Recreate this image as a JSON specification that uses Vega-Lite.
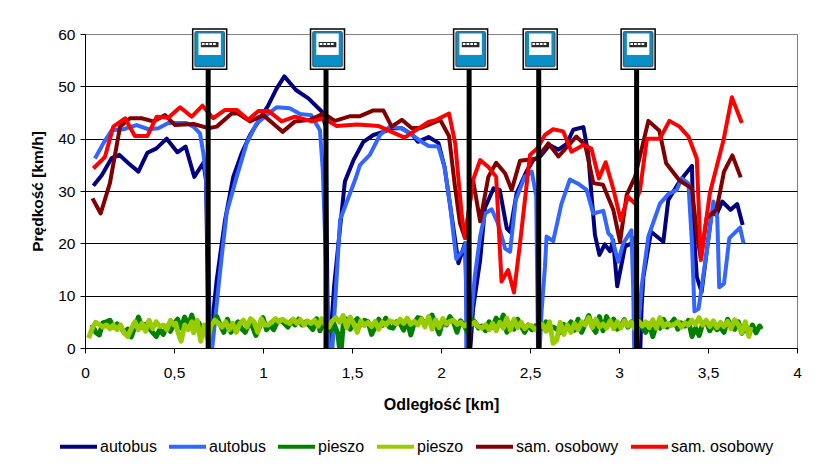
{
"$schema":"https://vega.github.io/schema/vega-lite/v6.json",
"width":712,"height":314,
"autosize":"none",
"padding":{"left":85,"top":34,"right":32,"bottom":121},
"background":"#ffffff",
"config":{"view":{"stroke":"#808080","strokeWidth":1},"font":"Liberation Sans"},
"datasets":{
"stops":[{"km":0.692},{"km":1.354},{"km":2.158},{"km":2.549},{"km":3.099}],
"series":[
{"s":"autobus 1","d":0.047,"v":31},{"s":"autobus 1","d":0.094,"v":33},{"s":"autobus 1","d":0.15,"v":36.3},{"s":"autobus 1","d":0.193,"v":36.9},{"s":"autobus 1","d":0.244,"v":35.3},{"s":"autobus 1","d":0.3,"v":33.7},{"s":"autobus 1","d":0.35,"v":37.3},{"s":"autobus 1","d":0.4,"v":38.1},{"s":"autobus 1","d":0.459,"v":40},{"s":"autobus 1","d":0.519,"v":37.4},{"s":"autobus 1","d":0.565,"v":38.5},{"s":"autobus 1","d":0.614,"v":32.7},{"s":"autobus 1","d":0.665,"v":35.4},{"s":"autobus 1","d":0.68,"v":32},{"s":"autobus 1","d":0.695,"v":0},{"s":"autobus 1","d":0.7,"v":0},{"s":"autobus 1","d":0.74,"v":13},{"s":"autobus 1","d":0.787,"v":24.5},{"s":"autobus 1","d":0.833,"v":32.7},{"s":"autobus 1","d":0.88,"v":37.2},{"s":"autobus 1","d":0.927,"v":40.7},{"s":"autobus 1","d":0.974,"v":43.3},{"s":"autobus 1","d":1.03,"v":46.4},{"s":"autobus 1","d":1.077,"v":49.6},{"s":"autobus 1","d":1.12,"v":51.9},{"s":"autobus 1","d":1.185,"v":49.3},{"s":"autobus 1","d":1.255,"v":47.7},{"s":"autobus 1","d":1.33,"v":45.2},{"s":"autobus 1","d":1.352,"v":42.3},{"s":"autobus 1","d":1.365,"v":0},{"s":"autobus 1","d":1.375,"v":0},{"s":"autobus 1","d":1.4,"v":12},{"s":"autobus 1","d":1.43,"v":22},{"s":"autobus 1","d":1.46,"v":31.8},{"s":"autobus 1","d":1.507,"v":35.8},{"s":"autobus 1","d":1.564,"v":39.4},{"s":"autobus 1","d":1.62,"v":40.7},{"s":"autobus 1","d":1.676,"v":41.3},{"s":"autobus 1","d":1.73,"v":42},{"s":"autobus 1","d":1.78,"v":42},{"s":"autobus 1","d":1.84,"v":40.7},{"s":"autobus 1","d":1.87,"v":39.4},{"s":"autobus 1","d":1.93,"v":40.3},{"s":"autobus 1","d":1.985,"v":39.2},{"s":"autobus 1","d":2.02,"v":34.6},{"s":"autobus 1","d":2.06,"v":25.2},{"s":"autobus 1","d":2.098,"v":16.2},{"s":"autobus 1","d":2.135,"v":20},{"s":"autobus 1","d":2.15,"v":0},{"s":"autobus 1","d":2.165,"v":0},{"s":"autobus 1","d":2.18,"v":7.4},{"s":"autobus 1","d":2.22,"v":16.8},{"s":"autobus 1","d":2.247,"v":26.8},{"s":"autobus 1","d":2.295,"v":30.5},{"s":"autobus 1","d":2.33,"v":30.2},{"s":"autobus 1","d":2.37,"v":22.8},{"s":"autobus 1","d":2.388,"v":22.2},{"s":"autobus 1","d":2.425,"v":29.6},{"s":"autobus 1","d":2.48,"v":33.7},{"s":"autobus 1","d":2.52,"v":36},{"s":"autobus 1","d":2.557,"v":36.6},{"s":"autobus 1","d":2.61,"v":38.8},{"s":"autobus 1","d":2.66,"v":37.9},{"s":"autobus 1","d":2.706,"v":39},{"s":"autobus 1","d":2.743,"v":41.7},{"s":"autobus 1","d":2.8,"v":42.2},{"s":"autobus 1","d":2.827,"v":37.2},{"s":"autobus 1","d":2.846,"v":29},{"s":"autobus 1","d":2.865,"v":21.6},{"s":"autobus 1","d":2.89,"v":17.8},{"s":"autobus 1","d":2.92,"v":19.8},{"s":"autobus 1","d":2.95,"v":18.5},{"s":"autobus 1","d":2.967,"v":20.6},{"s":"autobus 1","d":2.99,"v":11.8},{"s":"autobus 1","d":3.034,"v":19.4},{"s":"autobus 1","d":3.07,"v":20},{"s":"autobus 1","d":3.085,"v":21},{"s":"autobus 1","d":3.1,"v":0},{"s":"autobus 1","d":3.12,"v":0},{"s":"autobus 1","d":3.127,"v":7.9},{"s":"autobus 1","d":3.137,"v":13.6},{"s":"autobus 1","d":3.18,"v":22.2},{"s":"autobus 1","d":3.249,"v":20.3},{"s":"autobus 1","d":3.277,"v":28.3},{"s":"autobus 1","d":3.34,"v":31.8},{"s":"autobus 1","d":3.41,"v":34.8},{"s":"autobus 1","d":3.417,"v":23.8},{"s":"autobus 1","d":3.437,"v":13.6},{"s":"autobus 1","d":3.464,"v":10.7},{"s":"autobus 1","d":3.492,"v":18.2},{"s":"autobus 1","d":3.52,"v":25.7},{"s":"autobus 1","d":3.548,"v":25.5},{"s":"autobus 1","d":3.58,"v":28},{"s":"autobus 1","d":3.627,"v":26.4},{"s":"autobus 1","d":3.664,"v":27.5},{"s":"autobus 1","d":3.695,"v":23.5},
{"s":"autobus 2","d":0.056,"v":36.2},{"s":"autobus 2","d":0.103,"v":39.1},{"s":"autobus 2","d":0.15,"v":41.6},{"s":"autobus 2","d":0.215,"v":41.8},{"s":"autobus 2","d":0.29,"v":42.6},{"s":"autobus 2","d":0.356,"v":41.8},{"s":"autobus 2","d":0.412,"v":42},{"s":"autobus 2","d":0.468,"v":43},{"s":"autobus 2","d":0.57,"v":43},{"s":"autobus 2","d":0.609,"v":42.3},{"s":"autobus 2","d":0.646,"v":41},{"s":"autobus 2","d":0.665,"v":37.2},{"s":"autobus 2","d":0.68,"v":32.7},{"s":"autobus 2","d":0.705,"v":0},{"s":"autobus 2","d":0.715,"v":0},{"s":"autobus 2","d":0.76,"v":15},{"s":"autobus 2","d":0.796,"v":25.9},{"s":"autobus 2","d":0.852,"v":32.7},{"s":"autobus 2","d":0.908,"v":39.1},{"s":"autobus 2","d":0.964,"v":42.9},{"s":"autobus 2","d":1.02,"v":44.5},{"s":"autobus 2","d":1.077,"v":46},{"s":"autobus 2","d":1.15,"v":45.8},{"s":"autobus 2","d":1.208,"v":44.7},{"s":"autobus 2","d":1.27,"v":44.5},{"s":"autobus 2","d":1.32,"v":41.6},{"s":"autobus 2","d":1.336,"v":34},{"s":"autobus 2","d":1.37,"v":0},{"s":"autobus 2","d":1.39,"v":0},{"s":"autobus 2","d":1.433,"v":24.5},{"s":"autobus 2","d":1.517,"v":32.1},{"s":"autobus 2","d":1.545,"v":35},{"s":"autobus 2","d":1.6,"v":36.9},{"s":"autobus 2","d":1.657,"v":40.7},{"s":"autobus 2","d":1.713,"v":42.3},{"s":"autobus 2","d":1.778,"v":42},{"s":"autobus 2","d":1.826,"v":41},{"s":"autobus 2","d":1.873,"v":39.8},{"s":"autobus 2","d":1.93,"v":38.6},{"s":"autobus 2","d":1.985,"v":38.5},{"s":"autobus 2","d":2.02,"v":34.6},{"s":"autobus 2","d":2.05,"v":27.6},{"s":"autobus 2","d":2.086,"v":17},{"s":"autobus 2","d":2.125,"v":18.7},{"s":"autobus 2","d":2.14,"v":20},{"s":"autobus 2","d":2.142,"v":0},{"s":"autobus 2","d":2.155,"v":0},{"s":"autobus 2","d":2.19,"v":13.7},{"s":"autobus 2","d":2.22,"v":21.3},{"s":"autobus 2","d":2.247,"v":25.7},{"s":"autobus 2","d":2.285,"v":26.5},{"s":"autobus 2","d":2.32,"v":23.8},{"s":"autobus 2","d":2.36,"v":19},{"s":"autobus 2","d":2.388,"v":18.4},{"s":"autobus 2","d":2.42,"v":28.3},{"s":"autobus 2","d":2.47,"v":32.7},{"s":"autobus 2","d":2.51,"v":33.7},{"s":"autobus 2","d":2.535,"v":29},{"s":"autobus 2","d":2.545,"v":0},{"s":"autobus 2","d":2.555,"v":0},{"s":"autobus 2","d":2.565,"v":7},{"s":"autobus 2","d":2.584,"v":15.5},{"s":"autobus 2","d":2.593,"v":21.3},{"s":"autobus 2","d":2.63,"v":20.4},{"s":"autobus 2","d":2.677,"v":27.6},{"s":"autobus 2","d":2.724,"v":32.2},{"s":"autobus 2","d":2.77,"v":31.4},{"s":"autobus 2","d":2.818,"v":30.2},{"s":"autobus 2","d":2.855,"v":25.7},{"s":"autobus 2","d":2.912,"v":26.2},{"s":"autobus 2","d":2.94,"v":21.9},{"s":"autobus 2","d":2.958,"v":21.3},{"s":"autobus 2","d":2.996,"v":16.5},{"s":"autobus 2","d":3.024,"v":20},{"s":"autobus 2","d":3.07,"v":22.5},{"s":"autobus 2","d":3.08,"v":11},{"s":"autobus 2","d":3.085,"v":0},{"s":"autobus 2","d":3.1,"v":0},{"s":"autobus 2","d":3.127,"v":11.7},{"s":"autobus 2","d":3.165,"v":21.3},{"s":"autobus 2","d":3.23,"v":27.6},{"s":"autobus 2","d":3.277,"v":29.4},{"s":"autobus 2","d":3.324,"v":30.2},{"s":"autobus 2","d":3.352,"v":32.4},{"s":"autobus 2","d":3.39,"v":31.4},{"s":"autobus 2","d":3.41,"v":20},{"s":"autobus 2","d":3.424,"v":7},{"s":"autobus 2","d":3.447,"v":7.5},{"s":"autobus 2","d":3.492,"v":18.2},{"s":"autobus 2","d":3.53,"v":28},{"s":"autobus 2","d":3.552,"v":25},{"s":"autobus 2","d":3.563,"v":11.6},{"s":"autobus 2","d":3.59,"v":12.3},{"s":"autobus 2","d":3.62,"v":21},{"s":"autobus 2","d":3.68,"v":23},{"s":"autobus 2","d":3.7,"v":20},
{"s":"pieszo 1","d":0.04,"v":4.5},{"s":"pieszo 1","d":0.06,"v":3.0},{"s":"pieszo 1","d":0.08,"v":2.5},{"s":"pieszo 1","d":0.10,"v":4.8},{"s":"pieszo 1","d":0.12,"v":5.0},{"s":"pieszo 1","d":0.14,"v":5.3},{"s":"pieszo 1","d":0.16,"v":4.0},{"s":"pieszo 1","d":0.18,"v":4.6},{"s":"pieszo 1","d":0.20,"v":4.0},{"s":"pieszo 1","d":0.22,"v":3.0},{"s":"pieszo 1","d":0.24,"v":3.6},{"s":"pieszo 1","d":0.26,"v":2.1},{"s":"pieszo 1","d":0.28,"v":4.0},{"s":"pieszo 1","d":0.30,"v":5.9},{"s":"pieszo 1","d":0.32,"v":4.0},{"s":"pieszo 1","d":0.34,"v":4.5},{"s":"pieszo 1","d":0.36,"v":3.8},{"s":"pieszo 1","d":0.38,"v":3.0},{"s":"pieszo 1","d":0.40,"v":2.2},{"s":"pieszo 1","d":0.42,"v":3.5},{"s":"pieszo 1","d":0.44,"v":2.6},{"s":"pieszo 1","d":0.46,"v":4.2},{"s":"pieszo 1","d":0.48,"v":3.2},{"s":"pieszo 1","d":0.50,"v":4.6},{"s":"pieszo 1","d":0.52,"v":5.5},{"s":"pieszo 1","d":0.54,"v":3.8},{"s":"pieszo 1","d":0.56,"v":5.9},{"s":"pieszo 1","d":0.58,"v":4.2},{"s":"pieszo 1","d":0.60,"v":6.3},{"s":"pieszo 1","d":0.62,"v":3.5},{"s":"pieszo 1","d":0.64,"v":4.8},{"s":"pieszo 1","d":0.66,"v":3.0},{"s":"pieszo 1","d":0.68,"v":4.2},{"s":"pieszo 1","d":0.70,"v":2.8},{"s":"pieszo 1","d":0.72,"v":5.0},{"s":"pieszo 1","d":0.74,"v":6.0},{"s":"pieszo 1","d":0.76,"v":4.4},{"s":"pieszo 1","d":0.78,"v":3.0},{"s":"pieszo 1","d":0.80,"v":5.5},{"s":"pieszo 1","d":0.82,"v":3.0},{"s":"pieszo 1","d":0.84,"v":4.2},{"s":"pieszo 1","d":0.86,"v":5.0},{"s":"pieszo 1","d":0.88,"v":3.7},{"s":"pieszo 1","d":0.90,"v":3.0},{"s":"pieszo 1","d":0.92,"v":4.5},{"s":"pieszo 1","d":0.94,"v":4.2},{"s":"pieszo 1","d":0.96,"v":2.4},{"s":"pieszo 1","d":0.98,"v":4.0},{"s":"pieszo 1","d":1.00,"v":5.8},{"s":"pieszo 1","d":1.02,"v":3.5},{"s":"pieszo 1","d":1.04,"v":4.4},{"s":"pieszo 1","d":1.06,"v":3.5},{"s":"pieszo 1","d":1.08,"v":5.0},{"s":"pieszo 1","d":1.10,"v":5.3},{"s":"pieszo 1","d":1.12,"v":4.7},{"s":"pieszo 1","d":1.14,"v":4.0},{"s":"pieszo 1","d":1.16,"v":5.2},{"s":"pieszo 1","d":1.18,"v":4.4},{"s":"pieszo 1","d":1.20,"v":5.5},{"s":"pieszo 1","d":1.22,"v":4.4},{"s":"pieszo 1","d":1.24,"v":5.0},{"s":"pieszo 1","d":1.26,"v":4.3},{"s":"pieszo 1","d":1.28,"v":3.5},{"s":"pieszo 1","d":1.30,"v":5.6},{"s":"pieszo 1","d":1.32,"v":3.3},{"s":"pieszo 1","d":1.34,"v":5.0},{"s":"pieszo 1","d":1.36,"v":3.7},{"s":"pieszo 1","d":1.38,"v":3.3},{"s":"pieszo 1","d":1.40,"v":4.5},{"s":"pieszo 1","d":1.42,"v":2.8},{"s":"pieszo 1","d":1.43,"v":0},{"s":"pieszo 1","d":1.44,"v":0},{"s":"pieszo 1","d":1.45,"v":4.2},{"s":"pieszo 1","d":1.47,"v":5.5},{"s":"pieszo 1","d":1.49,"v":3.6},{"s":"pieszo 1","d":1.51,"v":4.8},{"s":"pieszo 1","d":1.53,"v":5.6},{"s":"pieszo 1","d":1.55,"v":4.4},{"s":"pieszo 1","d":1.57,"v":5.3},{"s":"pieszo 1","d":1.59,"v":5.0},{"s":"pieszo 1","d":1.61,"v":2.6},{"s":"pieszo 1","d":1.63,"v":4.0},{"s":"pieszo 1","d":1.65,"v":5.5},{"s":"pieszo 1","d":1.67,"v":4.3},{"s":"pieszo 1","d":1.69,"v":5.7},{"s":"pieszo 1","d":1.71,"v":4.0},{"s":"pieszo 1","d":1.73,"v":3.8},{"s":"pieszo 1","d":1.75,"v":5.0},{"s":"pieszo 1","d":1.77,"v":4.7},{"s":"pieszo 1","d":1.79,"v":3.4},{"s":"pieszo 1","d":1.81,"v":5.3},{"s":"pieszo 1","d":1.83,"v":2.5},{"s":"pieszo 1","d":1.85,"v":4.8},{"s":"pieszo 1","d":1.87,"v":5.8},{"s":"pieszo 1","d":1.89,"v":5.6},{"s":"pieszo 1","d":1.91,"v":4.5},{"s":"pieszo 1","d":1.93,"v":5.3},{"s":"pieszo 1","d":1.95,"v":6.3},{"s":"pieszo 1","d":1.97,"v":4.5},{"s":"pieszo 1","d":1.99,"v":2.7},{"s":"pieszo 1","d":2.01,"v":5.2},{"s":"pieszo 1","d":2.03,"v":4.4},{"s":"pieszo 1","d":2.05,"v":6.0},{"s":"pieszo 1","d":2.07,"v":5.0},{"s":"pieszo 1","d":2.09,"v":3.0},{"s":"pieszo 1","d":2.11,"v":5.2},{"s":"pieszo 1","d":2.13,"v":4.3},{"s":"pieszo 1","d":2.15,"v":3.0},{"s":"pieszo 1","d":2.17,"v":5.5},{"s":"pieszo 1","d":2.19,"v":5.0},{"s":"pieszo 1","d":2.21,"v":3.8},{"s":"pieszo 1","d":2.23,"v":4.2},{"s":"pieszo 1","d":2.25,"v":3.3},{"s":"pieszo 1","d":2.27,"v":5.0},{"s":"pieszo 1","d":2.29,"v":4.0},{"s":"pieszo 1","d":2.31,"v":5.7},{"s":"pieszo 1","d":2.33,"v":4.5},{"s":"pieszo 1","d":2.35,"v":6.3},{"s":"pieszo 1","d":2.37,"v":3.0},{"s":"pieszo 1","d":2.39,"v":4.6},{"s":"pieszo 1","d":2.41,"v":3.6},{"s":"pieszo 1","d":2.43,"v":5.5},{"s":"pieszo 1","d":2.45,"v":4.2},{"s":"pieszo 1","d":2.47,"v":3.0},{"s":"pieszo 1","d":2.49,"v":4.4},{"s":"pieszo 1","d":2.51,"v":3.5},{"s":"pieszo 1","d":2.53,"v":4.2},{"s":"pieszo 1","d":2.55,"v":3.4},{"s":"pieszo 1","d":2.57,"v":4.0},{"s":"pieszo 1","d":2.59,"v":5.0},{"s":"pieszo 1","d":2.61,"v":3.5},{"s":"pieszo 1","d":2.63,"v":4.0},{"s":"pieszo 1","d":2.65,"v":3.6},{"s":"pieszo 1","d":2.67,"v":3.0},{"s":"pieszo 1","d":2.69,"v":4.5},{"s":"pieszo 1","d":2.71,"v":4.0},{"s":"pieszo 1","d":2.73,"v":5.0},{"s":"pieszo 1","d":2.75,"v":3.4},{"s":"pieszo 1","d":2.77,"v":5.5},{"s":"pieszo 1","d":2.79,"v":3.0},{"s":"pieszo 1","d":2.81,"v":4.6},{"s":"pieszo 1","d":2.83,"v":6.2},{"s":"pieszo 1","d":2.85,"v":4.0},{"s":"pieszo 1","d":2.87,"v":3.0},{"s":"pieszo 1","d":2.89,"v":6.0},{"s":"pieszo 1","d":2.91,"v":3.3},{"s":"pieszo 1","d":2.93,"v":6.0},{"s":"pieszo 1","d":2.95,"v":4.5},{"s":"pieszo 1","d":2.97,"v":5.5},{"s":"pieszo 1","d":2.99,"v":3.6},{"s":"pieszo 1","d":3.01,"v":4.2},{"s":"pieszo 1","d":3.03,"v":5.4},{"s":"pieszo 1","d":3.05,"v":4.0},{"s":"pieszo 1","d":3.07,"v":5.0},{"s":"pieszo 1","d":3.09,"v":3.8},{"s":"pieszo 1","d":3.11,"v":5.5},{"s":"pieszo 1","d":3.13,"v":4.0},{"s":"pieszo 1","d":3.15,"v":3.0},{"s":"pieszo 1","d":3.17,"v":4.6},{"s":"pieszo 1","d":3.19,"v":2.2},{"s":"pieszo 1","d":3.21,"v":4.5},{"s":"pieszo 1","d":3.23,"v":3.8},{"s":"pieszo 1","d":3.25,"v":5.5},{"s":"pieszo 1","d":3.27,"v":4.0},{"s":"pieszo 1","d":3.29,"v":4.6},{"s":"pieszo 1","d":3.31,"v":5.5},{"s":"pieszo 1","d":3.33,"v":3.6},{"s":"pieszo 1","d":3.35,"v":4.8},{"s":"pieszo 1","d":3.37,"v":4.2},{"s":"pieszo 1","d":3.39,"v":5.3},{"s":"pieszo 1","d":3.41,"v":2.2},{"s":"pieszo 1","d":3.43,"v":3.8},{"s":"pieszo 1","d":3.45,"v":2.4},{"s":"pieszo 1","d":3.47,"v":4.6},{"s":"pieszo 1","d":3.49,"v":5.0},{"s":"pieszo 1","d":3.51,"v":3.3},{"s":"pieszo 1","d":3.53,"v":4.5},{"s":"pieszo 1","d":3.55,"v":3.5},{"s":"pieszo 1","d":3.57,"v":4.0},{"s":"pieszo 1","d":3.59,"v":3.0},{"s":"pieszo 1","d":3.61,"v":5.5},{"s":"pieszo 1","d":3.63,"v":4.3},{"s":"pieszo 1","d":3.65,"v":3.6},{"s":"pieszo 1","d":3.67,"v":5.0},{"s":"pieszo 1","d":3.69,"v":2.8},{"s":"pieszo 1","d":3.71,"v":4.0},{"s":"pieszo 1","d":3.73,"v":2.6},{"s":"pieszo 1","d":3.75,"v":4.4},{"s":"pieszo 1","d":3.77,"v":2.9},{"s":"pieszo 1","d":3.79,"v":4.2},{"s":"pieszo 1","d":3.80,"v":3.6},
{"s":"pieszo 2","d":0.02,"v":1.9},{"s":"pieszo 2","d":0.04,"v":3.7},{"s":"pieszo 2","d":0.06,"v":4.9},{"s":"pieszo 2","d":0.08,"v":4.5},{"s":"pieszo 2","d":0.10,"v":4.0},{"s":"pieszo 2","d":0.12,"v":4.4},{"s":"pieszo 2","d":0.14,"v":3.7},{"s":"pieszo 2","d":0.16,"v":4.4},{"s":"pieszo 2","d":0.18,"v":3.5},{"s":"pieszo 2","d":0.20,"v":4.4},{"s":"pieszo 2","d":0.22,"v":2.9},{"s":"pieszo 2","d":0.24,"v":2.2},{"s":"pieszo 2","d":0.26,"v":3.7},{"s":"pieszo 2","d":0.28,"v":5.0},{"s":"pieszo 2","d":0.30,"v":3.5},{"s":"pieszo 2","d":0.32,"v":4.7},{"s":"pieszo 2","d":0.34,"v":3.2},{"s":"pieszo 2","d":0.36,"v":5.3},{"s":"pieszo 2","d":0.38,"v":3.7},{"s":"pieszo 2","d":0.40,"v":5.0},{"s":"pieszo 2","d":0.42,"v":4.1},{"s":"pieszo 2","d":0.44,"v":4.4},{"s":"pieszo 2","d":0.46,"v":3.5},{"s":"pieszo 2","d":0.48,"v":5.3},{"s":"pieszo 2","d":0.50,"v":4.4},{"s":"pieszo 2","d":0.51,"v":4.7},{"s":"pieszo 2","d":0.52,"v":3.2},{"s":"pieszo 2","d":0.54,"v":1.3},{"s":"pieszo 2","d":0.56,"v":4.4},{"s":"pieszo 2","d":0.58,"v":3.5},{"s":"pieszo 2","d":0.60,"v":5.0},{"s":"pieszo 2","d":0.61,"v":2.9},{"s":"pieszo 2","d":0.63,"v":5.3},{"s":"pieszo 2","d":0.65,"v":1.3},{"s":"pieszo 2","d":0.67,"v":4.4},{"s":"pieszo 2","d":0.69,"v":1.6},{"s":"pieszo 2","d":0.71,"v":4.4},{"s":"pieszo 2","d":0.73,"v":5.3},{"s":"pieszo 2","d":0.75,"v":4.7},{"s":"pieszo 2","d":0.77,"v":4.0},{"s":"pieszo 2","d":0.79,"v":5.0},{"s":"pieszo 2","d":0.81,"v":3.5},{"s":"pieszo 2","d":0.83,"v":4.7},{"s":"pieszo 2","d":0.85,"v":3.0},{"s":"pieszo 2","d":0.87,"v":4.7},{"s":"pieszo 2","d":0.89,"v":5.3},{"s":"pieszo 2","d":0.91,"v":4.0},{"s":"pieszo 2","d":0.93,"v":5.6},{"s":"pieszo 2","d":0.95,"v":5.0},{"s":"pieszo 2","d":0.97,"v":3.0},{"s":"pieszo 2","d":0.99,"v":5.6},{"s":"pieszo 2","d":1.01,"v":4.4},{"s":"pieszo 2","d":1.03,"v":4.4},{"s":"pieszo 2","d":1.05,"v":5.0},{"s":"pieszo 2","d":1.07,"v":5.6},{"s":"pieszo 2","d":1.09,"v":5.0},{"s":"pieszo 2","d":1.11,"v":5.5},{"s":"pieszo 2","d":1.13,"v":5.0},{"s":"pieszo 2","d":1.15,"v":4.7},{"s":"pieszo 2","d":1.17,"v":5.5},{"s":"pieszo 2","d":1.19,"v":4.7},{"s":"pieszo 2","d":1.21,"v":5.4},{"s":"pieszo 2","d":1.23,"v":4.4},{"s":"pieszo 2","d":1.25,"v":5.2},{"s":"pieszo 2","d":1.27,"v":4.7},{"s":"pieszo 2","d":1.29,"v":5.3},{"s":"pieszo 2","d":1.31,"v":4.2},{"s":"pieszo 2","d":1.33,"v":5.6},{"s":"pieszo 2","d":1.35,"v":4.4},{"s":"pieszo 2","d":1.37,"v":4.0},{"s":"pieszo 2","d":1.39,"v":5.2},{"s":"pieszo 2","d":1.41,"v":5.8},{"s":"pieszo 2","d":1.43,"v":4.9},{"s":"pieszo 2","d":1.45,"v":6.2},{"s":"pieszo 2","d":1.47,"v":3.9},{"s":"pieszo 2","d":1.49,"v":5.9},{"s":"pieszo 2","d":1.51,"v":4.6},{"s":"pieszo 2","d":1.53,"v":3.0},{"s":"pieszo 2","d":1.55,"v":5.2},{"s":"pieszo 2","d":1.57,"v":4.3},{"s":"pieszo 2","d":1.59,"v":4.9},{"s":"pieszo 2","d":1.61,"v":4.1},{"s":"pieszo 2","d":1.63,"v":5.1},{"s":"pieszo 2","d":1.65,"v":3.6},{"s":"pieszo 2","d":1.67,"v":4.9},{"s":"pieszo 2","d":1.69,"v":4.4},{"s":"pieszo 2","d":1.71,"v":5.2},{"s":"pieszo 2","d":1.73,"v":5.0},{"s":"pieszo 2","d":1.75,"v":4.6},{"s":"pieszo 2","d":1.77,"v":5.5},{"s":"pieszo 2","d":1.79,"v":4.7},{"s":"pieszo 2","d":1.81,"v":5.7},{"s":"pieszo 2","d":1.83,"v":4.5},{"s":"pieszo 2","d":1.85,"v":5.1},{"s":"pieszo 2","d":1.87,"v":4.4},{"s":"pieszo 2","d":1.89,"v":5.5},{"s":"pieszo 2","d":1.91,"v":4.0},{"s":"pieszo 2","d":1.93,"v":6.0},{"s":"pieszo 2","d":1.95,"v":3.6},{"s":"pieszo 2","d":1.97,"v":5.4},{"s":"pieszo 2","d":1.99,"v":3.9},{"s":"pieszo 2","d":2.01,"v":5.6},{"s":"pieszo 2","d":2.03,"v":4.6},{"s":"pieszo 2","d":2.05,"v":5.1},{"s":"pieszo 2","d":2.07,"v":5.3},{"s":"pieszo 2","d":2.09,"v":4.5},{"s":"pieszo 2","d":2.11,"v":4.9},{"s":"pieszo 2","d":2.13,"v":4.2},{"s":"pieszo 2","d":2.15,"v":4.6},{"s":"pieszo 2","d":2.17,"v":4.5},{"s":"pieszo 2","d":2.19,"v":4.9},{"s":"pieszo 2","d":2.21,"v":4.1},{"s":"pieszo 2","d":2.23,"v":3.8},{"s":"pieszo 2","d":2.25,"v":4.4},{"s":"pieszo 2","d":2.27,"v":3.5},{"s":"pieszo 2","d":2.29,"v":4.7},{"s":"pieszo 2","d":2.31,"v":3.3},{"s":"pieszo 2","d":2.33,"v":4.9},{"s":"pieszo 2","d":2.35,"v":3.8},{"s":"pieszo 2","d":2.37,"v":5.7},{"s":"pieszo 2","d":2.39,"v":3.4},{"s":"pieszo 2","d":2.41,"v":5.5},{"s":"pieszo 2","d":2.43,"v":3.9},{"s":"pieszo 2","d":2.45,"v":4.9},{"s":"pieszo 2","d":2.47,"v":3.7},{"s":"pieszo 2","d":2.49,"v":4.4},{"s":"pieszo 2","d":2.51,"v":4.2},{"s":"pieszo 2","d":2.53,"v":3.5},{"s":"pieszo 2","d":2.55,"v":3.9},{"s":"pieszo 2","d":2.57,"v":4.5},{"s":"pieszo 2","d":2.59,"v":3.2},{"s":"pieszo 2","d":2.61,"v":5.0},{"s":"pieszo 2","d":2.63,"v":0.9},{"s":"pieszo 2","d":2.65,"v":1.5},{"s":"pieszo 2","d":2.67,"v":4.9},{"s":"pieszo 2","d":2.69,"v":2.6},{"s":"pieszo 2","d":2.71,"v":4.4},{"s":"pieszo 2","d":2.73,"v":3.0},{"s":"pieszo 2","d":2.75,"v":4.7},{"s":"pieszo 2","d":2.77,"v":3.5},{"s":"pieszo 2","d":2.79,"v":5.0},{"s":"pieszo 2","d":2.81,"v":4.4},{"s":"pieszo 2","d":2.83,"v":5.8},{"s":"pieszo 2","d":2.85,"v":3.9},{"s":"pieszo 2","d":2.87,"v":5.5},{"s":"pieszo 2","d":2.89,"v":4.0},{"s":"pieszo 2","d":2.91,"v":4.6},{"s":"pieszo 2","d":2.93,"v":3.8},{"s":"pieszo 2","d":2.95,"v":5.2},{"s":"pieszo 2","d":2.97,"v":3.7},{"s":"pieszo 2","d":2.99,"v":5.0},{"s":"pieszo 2","d":3.01,"v":3.8},{"s":"pieszo 2","d":3.03,"v":5.2},{"s":"pieszo 2","d":3.05,"v":4.2},{"s":"pieszo 2","d":3.07,"v":4.9},{"s":"pieszo 2","d":3.09,"v":3.6},{"s":"pieszo 2","d":3.11,"v":5.1},{"s":"pieszo 2","d":3.13,"v":4.2},{"s":"pieszo 2","d":3.15,"v":5.0},{"s":"pieszo 2","d":3.17,"v":3.9},{"s":"pieszo 2","d":3.19,"v":5.4},{"s":"pieszo 2","d":3.21,"v":3.8},{"s":"pieszo 2","d":3.23,"v":5.8},{"s":"pieszo 2","d":3.25,"v":4.1},{"s":"pieszo 2","d":3.27,"v":4.7},{"s":"pieszo 2","d":3.29,"v":4.3},{"s":"pieszo 2","d":3.31,"v":4.5},{"s":"pieszo 2","d":3.33,"v":5.0},{"s":"pieszo 2","d":3.35,"v":4.0},{"s":"pieszo 2","d":3.37,"v":4.8},{"s":"pieszo 2","d":3.39,"v":4.4},{"s":"pieszo 2","d":3.41,"v":5.3},{"s":"pieszo 2","d":3.43,"v":4.5},{"s":"pieszo 2","d":3.45,"v":5.8},{"s":"pieszo 2","d":3.47,"v":4.4},{"s":"pieszo 2","d":3.49,"v":5.3},{"s":"pieszo 2","d":3.51,"v":4.1},{"s":"pieszo 2","d":3.53,"v":5.2},{"s":"pieszo 2","d":3.55,"v":3.9},{"s":"pieszo 2","d":3.57,"v":4.9},{"s":"pieszo 2","d":3.59,"v":4.1},{"s":"pieszo 2","d":3.61,"v":5.1},{"s":"pieszo 2","d":3.63,"v":3.7},{"s":"pieszo 2","d":3.65,"v":5.4},{"s":"pieszo 2","d":3.67,"v":4.5},{"s":"pieszo 2","d":3.69,"v":2.9},{"s":"pieszo 2","d":3.71,"v":5.0},{"s":"pieszo 2","d":3.73,"v":2.2},{"s":"pieszo 2","d":3.74,"v":4.0},
{"s":"sam. osobowy 1","d":0.042,"v":28.6},{"s":"sam. osobowy 1","d":0.088,"v":25.7},{"s":"sam. osobowy 1","d":0.14,"v":31.5},{"s":"sam. osobowy 1","d":0.197,"v":42.3},{"s":"sam. osobowy 1","d":0.253,"v":43.9},{"s":"sam. osobowy 1","d":0.318,"v":43.9},{"s":"sam. osobowy 1","d":0.384,"v":43.3},{"s":"sam. osobowy 1","d":0.45,"v":44.5},{"s":"sam. osobowy 1","d":0.506,"v":42.6},{"s":"sam. osobowy 1","d":0.61,"v":42.8},{"s":"sam. osobowy 1","d":0.693,"v":42},{"s":"sam. osobowy 1","d":0.74,"v":42.3},{"s":"sam. osobowy 1","d":0.824,"v":44.8},{"s":"sam. osobowy 1","d":0.86,"v":44.8},{"s":"sam. osobowy 1","d":0.927,"v":43.3},{"s":"sam. osobowy 1","d":1.002,"v":44.5},{"s":"sam. osobowy 1","d":1.11,"v":41.3},{"s":"sam. osobowy 1","d":1.18,"v":43.3},{"s":"sam. osobowy 1","d":1.264,"v":43.6},{"s":"sam. osobowy 1","d":1.34,"v":44.8},{"s":"sam. osobowy 1","d":1.404,"v":43.4},{"s":"sam. osobowy 1","d":1.49,"v":44.3},{"s":"sam. osobowy 1","d":1.545,"v":44.3},{"s":"sam. osobowy 1","d":1.62,"v":45.4},{"s":"sam. osobowy 1","d":1.676,"v":45.4},{"s":"sam. osobowy 1","d":1.723,"v":42.3},{"s":"sam. osobowy 1","d":1.78,"v":43.6},{"s":"sam. osobowy 1","d":1.836,"v":42},{"s":"sam. osobowy 1","d":1.892,"v":42.1},{"s":"sam. osobowy 1","d":1.995,"v":43.6},{"s":"sam. osobowy 1","d":2.045,"v":40.5},{"s":"sam. osobowy 1","d":2.078,"v":31},{"s":"sam. osobowy 1","d":2.107,"v":23.8},{"s":"sam. osobowy 1","d":2.135,"v":21},{"s":"sam. osobowy 1","d":2.18,"v":32.1},{"s":"sam. osobowy 1","d":2.22,"v":24.2},{"s":"sam. osobowy 1","d":2.266,"v":32.7},{"s":"sam. osobowy 1","d":2.31,"v":35.4},{"s":"sam. osobowy 1","d":2.36,"v":33.4},{"s":"sam. osobowy 1","d":2.397,"v":30.2},{"s":"sam. osobowy 1","d":2.444,"v":35.8},{"s":"sam. osobowy 1","d":2.5,"v":36},{"s":"sam. osobowy 1","d":2.54,"v":36.2},{"s":"sam. osobowy 1","d":2.603,"v":39.1},{"s":"sam. osobowy 1","d":2.66,"v":36.6},{"s":"sam. osobowy 1","d":2.76,"v":40.4},{"s":"sam. osobowy 1","d":2.81,"v":38.8},{"s":"sam. osobowy 1","d":2.856,"v":31.5},{"s":"sam. osobowy 1","d":2.91,"v":31.2},{"s":"sam. osobowy 1","d":2.968,"v":26.4},{"s":"sam. osobowy 1","d":3.006,"v":20.3},{"s":"sam. osobowy 1","d":3.043,"v":29.2},{"s":"sam. osobowy 1","d":3.09,"v":32.7},{"s":"sam. osobowy 1","d":3.165,"v":43.4},{"s":"sam. osobowy 1","d":3.227,"v":41.5},{"s":"sam. osobowy 1","d":3.265,"v":35.3},{"s":"sam. osobowy 1","d":3.34,"v":32},{"s":"sam. osobowy 1","d":3.41,"v":30.5},{"s":"sam. osobowy 1","d":3.437,"v":22},{"s":"sam. osobowy 1","d":3.46,"v":17},{"s":"sam. osobowy 1","d":3.492,"v":24.8},{"s":"sam. osobowy 1","d":3.548,"v":26.4},{"s":"sam. osobowy 1","d":3.59,"v":33.7},{"s":"sam. osobowy 1","d":3.637,"v":36.8},{"s":"sam. osobowy 1","d":3.684,"v":32.6},
{"s":"sam. osobowy 2","d":0.047,"v":34.3},{"s":"sam. osobowy 2","d":0.112,"v":36.5},{"s":"sam. osobowy 2","d":0.159,"v":42.3},{"s":"sam. osobowy 2","d":0.225,"v":43.9},{"s":"sam. osobowy 2","d":0.28,"v":40.5},{"s":"sam. osobowy 2","d":0.35,"v":40.5},{"s":"sam. osobowy 2","d":0.403,"v":44.2},{"s":"sam. osobowy 2","d":0.468,"v":44},{"s":"sam. osobowy 2","d":0.534,"v":46},{"s":"sam. osobowy 2","d":0.6,"v":44.2},{"s":"sam. osobowy 2","d":0.66,"v":46.3},{"s":"sam. osobowy 2","d":0.72,"v":43.9},{"s":"sam. osobowy 2","d":0.787,"v":45.5},{"s":"sam. osobowy 2","d":0.852,"v":45.5},{"s":"sam. osobowy 2","d":0.918,"v":43.6},{"s":"sam. osobowy 2","d":0.974,"v":45.3},{"s":"sam. osobowy 2","d":1.03,"v":45.3},{"s":"sam. osobowy 2","d":1.105,"v":43.3},{"s":"sam. osobowy 2","d":1.18,"v":44.2},{"s":"sam. osobowy 2","d":1.274,"v":43.3},{"s":"sam. osobowy 2","d":1.34,"v":43.9},{"s":"sam. osobowy 2","d":1.414,"v":42.4},{"s":"sam. osobowy 2","d":1.53,"v":42.7},{"s":"sam. osobowy 2","d":1.65,"v":42.4},{"s":"sam. osobowy 2","d":1.795,"v":40.2},{"s":"sam. osobowy 2","d":1.93,"v":43.2},{"s":"sam. osobowy 2","d":1.975,"v":43.6},{"s":"sam. osobowy 2","d":2.045,"v":44.8},{"s":"sam. osobowy 2","d":2.08,"v":39.1},{"s":"sam. osobowy 2","d":2.117,"v":25.2},{"s":"sam. osobowy 2","d":2.135,"v":21},{"s":"sam. osobowy 2","d":2.18,"v":32.1},{"s":"sam. osobowy 2","d":2.22,"v":35.9},{"s":"sam. osobowy 2","d":2.266,"v":34.6},{"s":"sam. osobowy 2","d":2.31,"v":32.7},{"s":"sam. osobowy 2","d":2.34,"v":12.7},{"s":"sam. osobowy 2","d":2.377,"v":14.9},{"s":"sam. osobowy 2","d":2.41,"v":10.6},{"s":"sam. osobowy 2","d":2.444,"v":20},{"s":"sam. osobowy 2","d":2.5,"v":36.9},{"s":"sam. osobowy 2","d":2.54,"v":38.1},{"s":"sam. osobowy 2","d":2.584,"v":40.7},{"s":"sam. osobowy 2","d":2.63,"v":41.8},{"s":"sam. osobowy 2","d":2.686,"v":41.4},{"s":"sam. osobowy 2","d":2.733,"v":37.5},{"s":"sam. osobowy 2","d":2.8,"v":38.8},{"s":"sam. osobowy 2","d":2.845,"v":38.1},{"s":"sam. osobowy 2","d":2.887,"v":32.4},{"s":"sam. osobowy 2","d":2.925,"v":35.5},{"s":"sam. osobowy 2","d":2.968,"v":30.4},{"s":"sam. osobowy 2","d":3.01,"v":24.4},{"s":"sam. osobowy 2","d":3.05,"v":28.9},{"s":"sam. osobowy 2","d":3.09,"v":27.6},{"s":"sam. osobowy 2","d":3.118,"v":30.2},{"s":"sam. osobowy 2","d":3.157,"v":40},{"s":"sam. osobowy 2","d":3.23,"v":40},{"s":"sam. osobowy 2","d":3.283,"v":43.4},{"s":"sam. osobowy 2","d":3.34,"v":42.3},{"s":"sam. osobowy 2","d":3.39,"v":40.4},{"s":"sam. osobowy 2","d":3.437,"v":36.2},{"s":"sam. osobowy 2","d":3.46,"v":16.8},{"s":"sam. osobowy 2","d":3.51,"v":29.5},{"s":"sam. osobowy 2","d":3.587,"v":39.7},{"s":"sam. osobowy 2","d":3.634,"v":47.9},{"s":"sam. osobowy 2","d":3.69,"v":43}
]},
"layer":[
{"data":{"name":"series"},
 "mark":{"type":"line","strokeJoin":"round","strokeCap":"butt","clip":true},
 "encoding":{
  "x":{"field":"d","type":"quantitative","scale":{"domain":[0,4],"nice":false},
   "axis":{"title":"Odległość [km]","values":[0,0.5,1,1.5,2,2.5,3,3.5,4],"grid":false,"labelExpr":"replace(format(datum.value,'~g'),'.',',')","labelFont":"Liberation Sans","labelFontSize":15.5,"labelColor":"#000","labelPadding":12,"labelFlush":false,"labelOverlap":false,"tickColor":"#000","tickSize":5,"domainColor":"#000","titleFont":"Liberation Sans","titleFontSize":16,"titleFontWeight":"bold","titleColor":"#000","titlePadding":16}},
  "y":{"field":"v","type":"quantitative","scale":{"domain":[0,60],"nice":false},
   "axis":{"title":"Prędkość [km/h]","values":[0,10,20,30,40,50,60],"grid":true,"gridColor":{"condition":{"test":"datum.value==60","value":"#808080"},"value":"#000000"},"gridWidth":1,"labelFont":"Liberation Sans","labelFontSize":15.5,"labelColor":"#000","labelPadding":5,"tickColor":"#000","tickSize":5,"domainColor":"#000","titleFont":"Liberation Sans","titleFontSize":15.5,"titleFontWeight":"bold","titleColor":"#000","titlePadding":12}},
  "strokeWidth":{"condition":{"test":"indexof(datum.s,'pieszo')==0","value":5},"value":4},
  "color":{"field":"s","type":"nominal","sort":null,
   "scale":{"domain":["autobus 1","autobus 2","pieszo 1","pieszo 2","sam. osobowy 1","sam. osobowy 2"],"range":["#000080","#3366ff","#008000","#99cc00","#800000","#ff0000"]},
   "legend":{"title":null,"orient":"none","legendX":-27,"legendY":392,"direction":"horizontal","columns":6,"symbolType":"stroke","symbolSize":1369,"symbolStrokeWidth":4,"labelExpr":"slice(datum.label,0,-2)","labelFont":"Liberation Sans","labelFontSize":16,"labelColor":"#000","labelOffset":1,"columnPadding":4,"padding":0,"labelLimit":200}}
 }},
{"data":{"name":"stops"},
 "mark":{"type":"rule","color":"#000000","strokeWidth":5},
 "encoding":{"x":{"field":"km","type":"quantitative"},"y":{"datum":0},"y2":{"datum":53.3}}},
{"data":{"name":"stops"},
 "mark":{"type":"point","filled":true,"shape":"M-1,-1.18H1V1.18H-1Z","size":1156,"fill":"#ffffff","stroke":"#000000","strokeWidth":1.5,"opacity":1,"xOffset":1.5},
 "encoding":{"x":{"field":"km","type":"quantitative"},"y":{"datum":57.1}}},
{"data":{"name":"stops"},
 "mark":{"type":"point","filled":true,"shape":"M-.78,-1.02H.78Q.86,-1.02,.86,-.94V.94Q.86,1.02,.78,1.02H-.78Q-.86,1.02,-.86,.94V-.94Q-.86,-1.02,-.78,-1.02Z","size":1156,"fill":"#0a90c8","stroke":"#3f6478","strokeWidth":1.5,"opacity":1,"xOffset":1.5},
 "encoding":{"x":{"field":"km","type":"quantitative"},"y":{"datum":57.1}}},
{"data":{"name":"stops"},
 "mark":{"type":"point","filled":true,"shape":"M-.66,-.92H.66V.34H-.66Z","size":1156,"fill":"#ffffff","strokeWidth":0,"opacity":1,"xOffset":1.5},
 "encoding":{"x":{"field":"km","type":"quantitative"},"y":{"datum":57.1}}},
{"data":{"name":"stops"},
 "mark":{"type":"point","filled":true,"shape":"M-.52,-.42H.52V-.12H-.52ZM-.46,-.36V-.24H-.3V-.36ZM-.24,-.36V-.24H-.08V-.36ZM-.02,-.36V-.24H.14V-.36ZM.2,-.36V-.24H.36V-.36Z","size":1156,"fill":"#2b2b2b","strokeWidth":0,"opacity":1,"xOffset":1.5},
 "encoding":{"x":{"field":"km","type":"quantitative"},"y":{"datum":57.1}}}
]
}
